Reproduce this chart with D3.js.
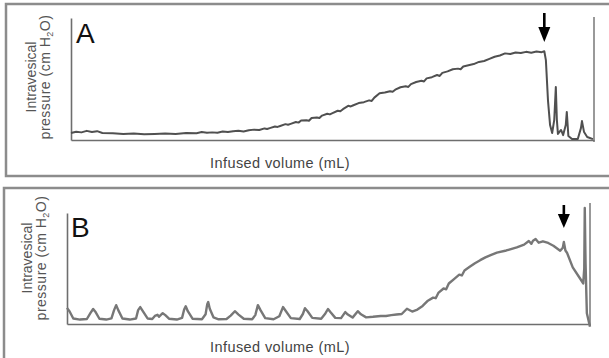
<!DOCTYPE html>
<html>
<head>
<meta charset="utf-8">
<script src="https://cdn.jsdelivr.net/npm/d3@7"></script>
<style>
  body { margin: 0; background: #fff; }
  svg { display: block; font-family: 'Liberation Sans', Arial, sans-serif; }
</style>
</head>
<body>
<div id="chart"></div>
<script>
// panel A: [infused volume, intravesical pressure] (relative units)
const volumeA = [0, 1, 2, 3, 4, 5, 6, 8, 10, 12, 14, 16, 18, 20, 22, 24, 25, 26, 27, 28, 29, 30, 31, 32, 33, 34, 35, 36, 37, 37.5, 38, 39, 39.5, 40, 41, 41.5, 42, 43, 43.5, 44, 45, 45.5, 46, 47, 47.5, 48, 49, 49.5, 50, 51, 51.5, 52, 53, 53.5, 54, 55, 56, 57, 57.5, 58, 59, 60, 61, 61.5, 62, 63, 64, 64.5, 65, 66, 67, 67.5, 68, 69, 70, 70.5, 71, 72, 73, 74, 74.5, 75, 76, 77, 78, 79, 80, 81, 82, 83, 84, 85, 86, 87, 88, 89, 90, 90.5, 90.8, 91.2, 91.6, 92.0, 92.4, 92.7, 92.9, 93.1, 93.7, 94.1, 94.6, 94.8, 95.1, 95.8, 96.9, 97.5, 97.7, 98.1, 98.7, 99.8];
const pressureA = [2.3, 2.7, 2.5, 3.0, 2.6, 2.9, 2.3, 2.2, 2.0, 2.1, 1.9, 2.0, 2.1, 2.0, 2.3, 2.2, 2.6, 2.4, 2.5, 2.4, 2.8, 2.6, 2.9, 3.0, 2.8, 3.2, 3.4, 3.3, 3.8, 3.6, 3.9, 4.4, 4.3, 4.6, 5.2, 5.0, 5.3, 5.9, 5.7, 6.4, 6.5, 6.3, 7.2, 7.4, 7.2, 8.0, 8.6, 8.4, 8.8, 9.6, 9.4, 10.1, 11.2, 11.0, 11.4, 12.1, 12.4, 13.0, 12.8, 13.9, 15.3, 15.6, 16.0, 15.8, 16.5, 17.3, 17.6, 17.4, 18.3, 19.0, 19.4, 19.2, 20.2, 20.6, 21.3, 21.0, 22.0, 22.5, 23.2, 23.4, 23.2, 24.1, 24.5, 24.9, 25.6, 25.9, 26.6, 27.3, 27.7, 28.4, 28.2, 28.7, 28.5, 28.9, 28.6, 29.0, 28.8, 29.1, 26.2, 13.0, 4.9, 2.3, 6.6, 17.4, 6.6, 2.0, 3.3, 1.6, 4.9, 9.2, 1.3, 0.3, 0.3, 3.9, 6.2, 2.6, 1.0, 0.3];

// panel B
const volumeB = [0, 0.5, 1.2, 2.5, 3.8, 4.5, 5.0, 5.5, 6.2, 7.5, 8.5, 9.0, 9.4, 9.8, 10.6, 12.0, 13.2, 13.6, 14.0, 14.5, 15.4, 16.3, 16.8, 17.3, 17.6, 17.9, 18.3, 18.8, 19.5, 21.0, 22.0, 22.4, 22.7, 23.1, 24.0, 25.8, 26.5, 26.8, 27.0, 27.3, 28.0, 29.0, 30.5, 31.3, 32.1, 32.8, 33.8, 35.4, 36.0, 36.5, 37.0, 37.9, 39.5, 40.6, 41.3, 41.8, 42.8, 44.5, 45.1, 45.5, 46.0, 46.9, 48.6, 49.4, 49.9, 50.4, 51.3, 52.4, 53.2, 53.7, 54.6, 55.6, 56.2, 57.2, 58.5, 60, 61, 62, 63, 64, 65, 66, 67, 68, 69, 70, 70.5, 71, 72, 72.5, 73, 74, 75, 75.5, 76, 77, 78, 79, 80, 81, 82.2, 84, 86, 87.4, 88.3, 88.8, 89.1, 89.6, 90.2, 91, 92, 93, 94.3, 94.8, 95.0, 95.3, 95.6, 96.7, 98.1, 98.7, 98.9, 99.0, 99.15, 99.4, 100];
const pressureB = [5.8, 4.5, 2.0, 1.6, 1.8, 4.0, 5.4, 4.2, 1.9, 1.6, 2.0, 5.0, 6.8, 5.0, 2.0, 1.6, 2.0, 5.0, 6.1, 4.6, 2.0, 1.8, 2.9, 3.3, 2.6, 3.2, 3.9, 3.2, 1.9, 1.6, 2.2, 5.2, 6.4, 4.6, 1.9, 1.7, 3.5, 7.0, 7.9, 5.5, 2.4, 1.7, 1.8, 3.0, 4.6, 3.4, 1.9, 1.7, 3.2, 6.8, 5.0, 2.1, 1.7, 2.8, 6.1, 4.8, 2.1, 1.8, 3.6, 5.7, 4.6, 2.2, 1.9, 3.8, 5.4, 4.2, 2.2, 2.1, 4.3, 3.4, 2.3, 4.6, 3.5, 2.4, 2.6, 2.9, 2.9, 3.2, 3.4, 3.6, 5.5, 4.5, 5.2, 6.5, 8.4, 9.5, 9.3, 11.2, 12.8, 12.5, 14.6, 16.2, 17.8, 17.5, 19.3, 20.6, 21.9, 23.0, 24.0, 24.8, 25.7, 26.5, 27.6, 28.6, 29.9, 28.9, 30.0, 30.6, 29.3, 29.8, 29.2, 28.2, 26.4, 27.5, 29.6, 26.5, 25.7, 20.4, 16.4, 14.6, 20.0, 41.8, 22.0, 3.9, -1.0];

// arrows mark the volume where the trace breaks
const arrowVolume = { A: 90.5, B: 95.0 };
const panelLetters = ['A', 'B'];
const xLabel = 'Infused volume (mL)';

const W = 609, H = 358;
const svg = d3.select('#chart').append('svg').attr('width', W).attr('height', H);

const panels = [
  { key: 'A', box: { x: 6, y: 4, w: 612, h: 172 }, plot: { left: 71, right: 594, top: 18, bottom: 140 }, rightTop: 17,
    labelX: 36, labelY: 77, xLabelY: 168, letter: { x: 76, y: 43 }, arrow: { top: 13, tip: 42 },
    vol: volumeA, pres: pressureA, color: '#505050', width: 2 },
  { key: 'B', box: { x: 4, y: 188, w: 612, h: 180 }, plot: { left: 67, right: 590, top: 213, bottom: 324 }, rightTop: 203,
    labelX: 32, labelY: 258, xLabelY: 352, letter: { x: 71, y: 237 }, arrow: { top: 205, tip: 228 },
    vol: volumeB, pres: pressureB, color: '#777', width: 2.4 }
];

panels.forEach((p, i) => {
  const g = svg.append('g');
  g.append('rect').attr('x', p.box.x).attr('y', p.box.y).attr('width', p.box.w).attr('height', p.box.h)
    .attr('fill', 'none').attr('stroke', '#8c8c8c').attr('stroke-width', 2.5);

  const x = d3.scaleLinear().domain([0, 100]).range([p.plot.left, p.plot.right]);
  const y = d3.scaleLinear().domain([0, 40]).range([p.plot.bottom, p.plot.top]);

  // axes with no ticks, just the lines
  g.append('g').attr('transform', `translate(0,${p.plot.bottom})`)
    .call(d3.axisBottom(x).tickValues([]).tickSizeOuter(0))
    .select('.domain').attr('stroke', '#6e6e6e').attr('stroke-width', 1.6);
  g.append('g').attr('transform', `translate(${p.plot.left},0)`)
    .call(d3.axisLeft(y).tickValues([]).tickSizeOuter(0))
    .select('.domain').attr('stroke', '#6e6e6e').attr('stroke-width', 1.6);
  g.append('line').attr('x1', x(100)).attr('x2', x(100)).attr('y1', p.rightTop).attr('y2', p.plot.bottom + 2)
    .attr('stroke', '#6e6e6e').attr('stroke-width', 1.4);

  const pts = p.vol.map((v, k) => [v, p.pres[k]]);
  const line = d3.line().x(d => x(d[0])).y(d => y(d[1]));
  g.append('path').datum(pts).attr('d', line).attr('fill', 'none')
    .attr('stroke', p.color).attr('stroke-width', p.width).attr('stroke-linejoin', 'round');

  // arrow
  const ax = x(arrowVolume[p.key]);
  const head = p.key === 'A' ? 15 : 14;
  g.append('line').attr('x1', ax).attr('x2', ax).attr('y1', p.arrow.top).attr('y2', p.arrow.tip - head + 2)
    .attr('stroke', '#000').attr('stroke-width', 2.6);
  g.append('path').attr('d', `M${ax - 6},${p.arrow.tip - head} L${ax + 6},${p.arrow.tip - head} L${ax},${p.arrow.tip} Z`)
    .attr('fill', '#000');

  g.append('text').attr('x', p.letter.x).attr('y', p.letter.y).text(panelLetters[i])
    .style('font-size', '28px').style('fill', '#111');

  const yl = g.append('text').attr('transform', `translate(${p.labelX},${p.labelY}) rotate(-90)`)
    .attr('text-anchor', 'middle').style('font-size', '14px').style('fill', '#555');
  yl.append('tspan').attr('x', 0).attr('dy', 0).text('Intravesical');
  const t2 = yl.append('tspan').attr('x', 0).attr('dy', 13.5).style('letter-spacing', '0.5px');
  t2.append('tspan').text('pressure (cm H');
  t2.append('tspan').attr('dy', 3).style('font-size', '9px').text('2');
  t2.append('tspan').attr('dy', -3).text('O)');

  g.append('text').attr('x', 280).attr('y', p.xLabelY).attr('text-anchor', 'middle')
    .style('font-size', '14.5px').style('letter-spacing', '0.4px').style('fill', '#444').text(xLabel);
});
</script>
</body>
</html>
